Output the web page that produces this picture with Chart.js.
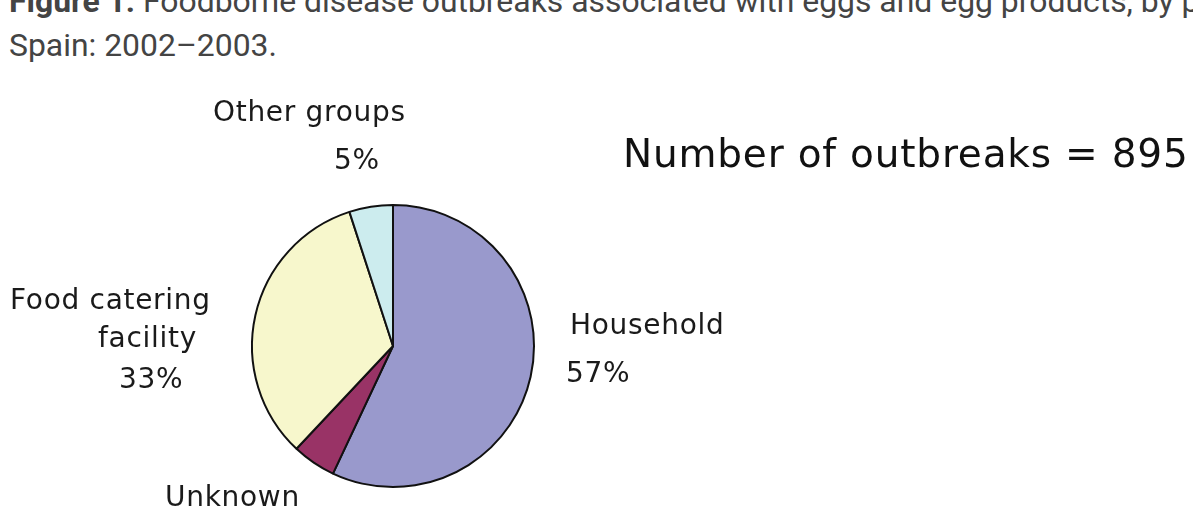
<!DOCTYPE html>
<html>
<head>
<meta charset="utf-8">
<script src="https://cdn.jsdelivr.net/npm/chart.js@4.4.1/dist/chart.umd.min.js"></script>
<style>
  html, body { margin: 0; padding: 0; background: #fff; }
  body { width: 1193px; height: 524px; position: relative; overflow: hidden; }
  .cap { position: absolute; left: 9px; font-family: Roboto, sans-serif; font-size: 31.9px;
         line-height: 40px; color: #444; white-space: nowrap; }
  #cap1 { top: -19px; }
  #cap2 { top: 25px; }
  #wrap { position: absolute; left: 0; top: 0; width: 1193px; height: 524px; }
</style>
</head>
<body>
<div class="cap" id="cap1"><b>Figure 1.</b> Foodborne disease outbreaks associated with eggs and egg products, by place of consumption,</div>
<div class="cap" id="cap2">Spain: 2002&#8211;2003.</div>
<div id="wrap"><canvas id="myChart"></canvas></div>
<script>
// datos
const categorias = ['Household', 'Unknown', 'Food catering facility', 'Other groups'];
const porcentajes = [57, 5, 33, 5];
const colores = ['#9999CC', '#993366', '#F7F7CC', '#CCECEE'];
const totalBrotes = 895;

// etiquetas alrededor de la tarta (lineas de texto por sector)
const etiquetas = [
  { lineas: ['Household', porcentajes[0] + '%'], x: [570, 566], y: [327, 375] },
  { lineas: ['Unknown'], x: [165], y: [499] },
  { lineas: ['Food catering', 'facility', porcentajes[2] + '%'], x: [10, 98, 119], y: [302, 340, 381] },
  { lineas: ['Other groups', porcentajes[3] + '%'], x: [213, 334], y: [114, 162] }
];

const pluginEtiquetas = {
  id: 'etiquetas',
  afterDraw(chart) {
    const ctx = chart.ctx;
    ctx.save();
    ctx.fillStyle = '#1a1a1a';
    ctx.textBaseline = 'middle';
    ctx.textAlign = 'left';
    ctx.font = '28px "DejaVu Sans", Verdana, sans-serif';
    ctx.letterSpacing = '0.7px';
    etiquetas.forEach(e => {
      e.lineas.forEach((t, i) => ctx.fillText(t, e.x[i], e.y[i]));
    });
    ctx.font = '39px "DejaVu Sans", Verdana, sans-serif';
    ctx.letterSpacing = '0.8px';
    ctx.fillStyle = '#111';
    ctx.fillText('Number of outbreaks = ' + totalBrotes, 623, 157);
    ctx.restore();
  }
};

const ctx = document.getElementById('myChart').getContext('2d');
new Chart(ctx, {
  type: 'pie',
  data: {
    labels: categorias,
    datasets: [{
      data: porcentajes,
      backgroundColor: colores,
      borderColor: '#111',
      borderWidth: 2
    }]
  },
  options: {
    responsive: true,
    maintainAspectRatio: false,
    animation: false,
    layout: { padding: { left: 251, right: 658, top: 204, bottom: 36 } },
    plugins: {
      legend: { display: false },
      tooltip: { enabled: false }
    }
  },
  plugins: [pluginEtiquetas]
});
</script>
</body>
</html>
